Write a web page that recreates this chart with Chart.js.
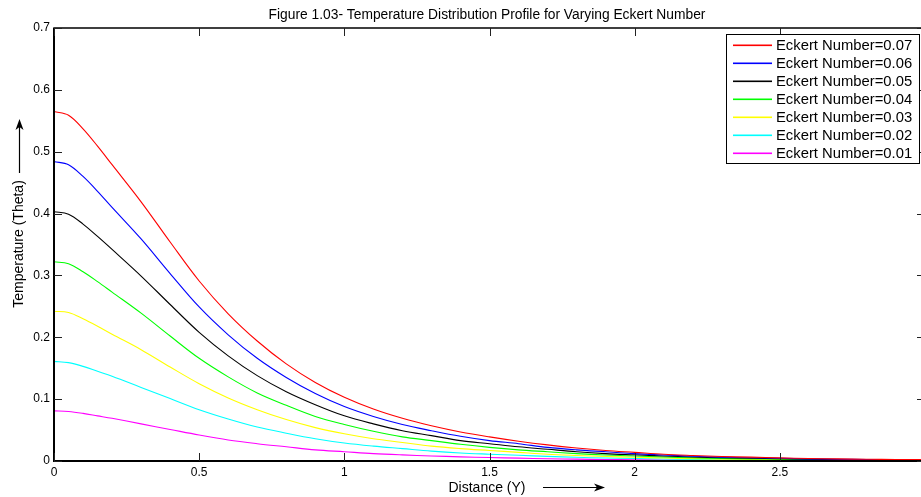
<!DOCTYPE html>
<html>
<head>
<meta charset="utf-8">
<script src="https://cdn.jsdelivr.net/npm/chart.js@4.4.1/dist/chart.umd.min.js"></script>
<style>
  html, body { margin: 0; padding: 0; background: #fff; overflow: hidden; width: 921px; height: 497px; }
  canvas { display: block; }
</style>
</head>
<body>
<canvas id="c" width="926" height="497"></canvas>
<script>
// ---- data ----
const distance = [0,0.05,0.1,0.15,0.2,0.3,0.4,0.5,0.6,0.7,0.8,0.9,1.0,1.1,1.2,1.3,1.4,1.5,1.6,1.7,1.8,1.9,2.0,2.1,2.2,2.3,2.4,2.5,2.6,2.7,2.8,2.9,3.0];
const ec007 = [0.565,0.559,0.537,0.509,0.479,0.419,0.354,0.291,0.238,0.194,0.157,0.127,0.103,0.084,0.069,0.057,0.047,0.039,0.032,0.026,0.021,0.017,0.014,0.011,0.009,0.0073,0.0062,0.0051,0.0040,0.0034,0.0028,0.0025,0.0023];
const ec006 = [0.484,0.479,0.460,0.436,0.410,0.359,0.303,0.249,0.204,0.166,0.135,0.109,0.088,0.072,0.059,0.049,0.040,0.033,0.028,0.022,0.018,0.015,0.012,0.0097,0.0077,0.0063,0.0053,0.0044,0.0034,0.0029,0.0024,0.0022,0.0019];
const ec005 = [0.403,0.399,0.383,0.363,0.342,0.299,0.253,0.208,0.170,0.138,0.112,0.091,0.073,0.060,0.049,0.041,0.033,0.028,0.023,0.019,0.015,0.012,0.010,0.0081,0.0064,0.0052,0.0044,0.0036,0.0028,0.0024,0.0020,0.0018,0.0016];
const ec004 = [0.322,0.319,0.306,0.290,0.273,0.239,0.202,0.166,0.136,0.110,0.090,0.072,0.059,0.048,0.039,0.033,0.027,0.022,0.018,0.015,0.012,0.0097,0.0081,0.0064,0.0052,0.0042,0.0035,0.0029,0.0023,0.0019,0.0016,0.0014,0.0013];
const ec003 = [0.242,0.240,0.230,0.218,0.205,0.180,0.152,0.125,0.102,0.083,0.067,0.054,0.044,0.036,0.030,0.024,0.020,0.017,0.014,0.011,0.009,0.0073,0.0061,0.0048,0.0039,0.0031,0.0027,0.0022,0.0017,0.0015,0.0012,0.0011,0.0010];
const ec002 = [0.161,0.159,0.153,0.145,0.137,0.119,0.101,0.083,0.068,0.055,0.045,0.036,0.029,0.024,0.020,0.016,0.013,0.011,0.0092,0.0074,0.0060,0.0048,0.0040,0.0032,0.0026,0.0021,0.0018,0.0014,0.0011,0.0010,0.0008,0.0007,0.0006];
const ec001 = [0.081,0.080,0.077,0.073,0.069,0.060,0.051,0.042,0.034,0.028,0.023,0.018,0.015,0.012,0.0099,0.0082,0.0067,0.0056,0.0046,0.0037,0.0030,0.0024,0.0020,0.0016,0.0013,0.0011,0.0009,0.0007,0.0006,0.0005,0.0004,0.0004,0.0003];
const seriesLabels = ['Eckert Number=0.07','Eckert Number=0.06','Eckert Number=0.05','Eckert Number=0.04','Eckert Number=0.03','Eckert Number=0.02','Eckert Number=0.01'];
const seriesColors = ['#ff0000','#0000ff','#000000','#00ff00','#ffff00','#00ffff','#ff00ff'];
const xTicks = [0,0.5,1,1.5,2,2.5];
const xTickLabels = ['0','0.5','1','1.5','2','2.5'];
const yTicks = [0,0.1,0.2,0.3,0.4,0.5,0.6,0.7];
const yTickLabels = ['0','0.1','0.2','0.3','0.4','0.5','0.6','0.7'];
const titleText = 'Figure 1.03- Temperature Distribution Profile for Varying Eckert Number';
const xTitle = 'Distance (Y)';
const yTitle = 'Temperature (Theta)';

const allSeries = [ec007, ec006, ec005, ec004, ec003, ec002, ec001];
const datasets = allSeries.map((s, i) => ({
  label: seriesLabels[i],
  data: s.map((v, j) => ({ x: distance[j], y: v })),
  borderColor: seriesColors[i],
  backgroundColor: seriesColors[i],
  borderWidth: 1.1,
  pointRadius: 0,
  tension: 0.35,
  fill: false
}));

const FONT = '"Liberation Sans", Arial, Helvetica, sans-serif';

const decor = {
  id: 'decor',
  afterDraw(chart) {
    const ctx = chart.ctx;
    const { left, right, top, bottom } = chart.chartArea;
    const xs = chart.scales.x, ys = chart.scales.y;
    ctx.save();
    ctx.globalCompositeOperation = 'source-over';
    ctx.globalAlpha = 1;
    ctx.filter = 'none';
    // box
    ctx.strokeStyle = '#000';
    ctx.lineWidth = 1.5;
    ctx.strokeRect(left, top, right - left, bottom - top);
    ctx.lineWidth = 2;
    ctx.beginPath(); ctx.moveTo(left, top); ctx.lineTo(left, bottom); ctx.lineTo(right, bottom); ctx.stroke();
    // inward ticks on all sides
    ctx.lineWidth = 1;
    ctx.strokeStyle = '#222';
    ctx.beginPath();
    xTicks.forEach(v => {
      const px = Math.round(xs.getPixelForValue(v)) + 0.5;
      ctx.moveTo(px, bottom); ctx.lineTo(px, bottom - 8);
      ctx.moveTo(px, top); ctx.lineTo(px, top + 8);
    });
    yTicks.forEach(v => {
      const py = Math.round(ys.getPixelForValue(v)) + 0.5;
      ctx.moveTo(left, py); ctx.lineTo(left + 8, py);
      ctx.moveTo(right, py); ctx.lineTo(right - 8, py);
    });
    ctx.stroke();

    // title
    ctx.fillStyle = '#000';
    ctx.font = '13.8px ' + FONT;
    ctx.textAlign = 'center';
    ctx.textBaseline = 'middle';
    ctx.fillText(titleText, 487, 15);

    // x axis title + arrow
    ctx.font = '14px ' + FONT;
    ctx.fillText(xTitle, 487, 488);
    ctx.strokeStyle = '#000';
    ctx.lineWidth = 1.2;
    ctx.beginPath(); ctx.moveTo(543, 487.5); ctx.lineTo(598, 487.5); ctx.stroke();
    ctx.beginPath(); ctx.moveTo(605, 487.5); ctx.lineTo(594, 483.5); ctx.lineTo(597, 487.5); ctx.lineTo(594, 491.5); ctx.closePath(); ctx.fill();

    // y axis title + arrow
    ctx.save();
    ctx.translate(19, 244);
    ctx.rotate(-Math.PI / 2);
    ctx.fillText(yTitle, 0, 0);
    ctx.restore();
    ctx.beginPath(); ctx.moveTo(19.5, 173); ctx.lineTo(19.5, 126); ctx.stroke();
    ctx.beginPath(); ctx.moveTo(19.5, 119); ctx.lineTo(15.5, 130); ctx.lineTo(19.5, 127); ctx.lineTo(23.5, 130); ctx.closePath(); ctx.fill();

    // legend
    const lx = 726, ly = 34, lw = 193, lh = 129;
    ctx.fillStyle = '#fff';
    ctx.fillRect(lx, ly, lw, lh);
    ctx.strokeStyle = '#000';
    ctx.lineWidth = 1;
    ctx.strokeRect(lx + 0.5, ly + 0.5, lw, lh);
    ctx.font = '14.8px ' + FONT;
    ctx.textAlign = 'left';
    seriesLabels.forEach((lab, i) => {
      const cy = 45 + i * 18;
      ctx.fillStyle = seriesColors[i];
      ctx.fillRect(733, cy - 0.5, 39, 1.6);
      ctx.fillStyle = '#000';
      ctx.fillText(lab, 776, cy + 1);
    });
    ctx.restore();
  }
};

new Chart(document.getElementById('c'), {
  type: 'line',
  data: { datasets },
  options: {
    responsive: false,
    animation: false,
    devicePixelRatio: 1,
    layout: { padding: { left: 0, top: 28, right: 1, bottom: 0 } },
    plugins: { legend: { display: false }, title: { display: false }, tooltip: { enabled: false } },
    scales: {
      x: {
        type: 'linear', min: 0, max: 3,
        afterBuildTicks: s => { s.ticks = xTicks.map(v => ({ value: v })); },
        afterFit: s => { s.height = 36; },
        grid: { display: false, drawTicks: false },
        border: { display: false },
        ticks: {
          padding: 4, color: '#000', font: { family: FONT, size: 12 },
          callback: (v) => xTickLabels[xTicks.indexOf(v)] ?? ''
        }
      },
      y: {
        type: 'linear', min: 0, max: 0.7,
        afterBuildTicks: s => { s.ticks = yTicks.map(v => ({ value: v })); },
        afterFit: s => { s.width = 54; },
        grid: { display: false, drawTicks: false },
        border: { display: false },
        ticks: {
          padding: 4, color: '#000', font: { family: FONT, size: 12 },
          callback: (v) => { const k = yTicks.findIndex(t => Math.abs(t - v) < 1e-9); return k >= 0 ? yTickLabels[k] : ''; }
        }
      }
    }
  },
  plugins: [decor]
});
</script>
</body>
</html>
